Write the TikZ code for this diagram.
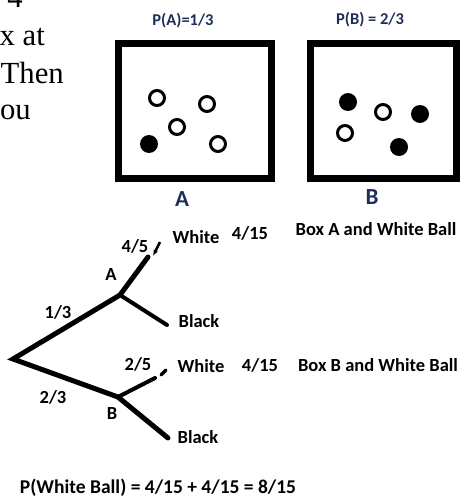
\documentclass[tikz,border=0pt]{standalone}
\usepackage{fontspec}
\setmainfont{Liberation Serif}
\newfontfamily\carlito{Carlito}
\usetikzlibrary{arrows.meta}
\definecolor{titlenavy}{HTML}{1F2D5A}

\begin{document}
\begin{tikzpicture}[x=1pt,y=-1pt,
    every node/.style={inner sep=0pt},
    textline/.style={anchor=base east,font=\fontsize{30.7}{37}\selectfont},
    boxline/.style={line width=6.5pt},
    hollowball/.style={draw,line width=3pt},
    fullball/.style={fill=black},
    boxtitle/.style={text=titlenavy,font=\carlito\bfseries\fontsize{16.5}{18}\selectfont},
    boxname/.style={text=titlenavy,font=\carlito\bfseries\fontsize{23}{25}\selectfont},
    lbl/.style={font=\carlito\bfseries\fontsize{18.5}{20}\selectfont},
    branch/.style={line width=5pt,line cap=round},
    twig/.style={line width=4pt,line cap=round}]
  \useasboundingbox (0,0) rectangle (463,503);

  % cut-off question text on the left
  \node[textline] (q1) at (23,8) {4};
  \node[textline] (q2) at (45,46) {x at};
  \node[textline] (q3) at (64,83) {Then};
  \node[textline] (q4) at (31,119) {ou};

  % box A
  \node[boxtitle] (pa) at (183,21) {P(A)=1/3};
  \draw[boxline] (118.5,43.5) rectangle (271.5,178.5);
  \draw[hollowball] (157,98) circle[radius=7.5pt];
  \draw[hollowball] (207,104) circle[radius=7.5pt];
  \draw[hollowball] (177,127) circle[radius=7.5pt];
  \draw[hollowball] (218,144) circle[radius=7.5pt];
  \fill[fullball] (149,144) circle[radius=9pt];
  \node[boxname] (boxa) at (182,199) {A};

  % box B
  \node[boxtitle] (pb) at (370,20) {P(B) = 2/3};
  \draw[boxline] (310.5,43.5) rectangle (456.5,178.5);
  \fill[fullball] (348,102) circle[radius=9pt];
  \fill[fullball] (420,114) circle[radius=9pt];
  \fill[fullball] (399,147) circle[radius=9pt];
  \draw[hollowball] (383,112) circle[radius=7.5pt];
  \draw[hollowball] (345,133) circle[radius=7.5pt];
  \node[boxname] (boxb) at (372,197) {B};

  % tree
  \coordinate (root) at (13,359);
  \coordinate (ja) at (120,295);
  \coordinate (jb) at (118,397);
  \coordinate (aw) at (148,257);
  \coordinate (ab) at (167,325);
  \coordinate (bw) at (155,378);
  \coordinate (bb) at (168,438);
  \coordinate (tipa1) at (160,242);
  \coordinate (tipa2) at (153,256);
  \coordinate (dashb1) at (161,375);
  \coordinate (dashb2) at (166,370);

  \draw[branch] (ja) -- (root) -- (jb);
  \draw[branch] (ja) -- (aw);
  \draw[twig] (ja) -- (ab);
  \draw[twig] (jb) -- (bw);
  \draw[branch] (jb) -- (bb);
  \draw[line width=2.5pt,-{Latex[length=6pt,width=5pt]}] (tipa1) -- (tipa2);
  \draw[line width=3.5pt,line cap=round] (dashb1) -- (dashb2);

  \node[lbl] (p45) at (135,246) {4/5};
  \node[lbl] (wa) at (196,237) {White};
  \node[lbl] (fa) at (250,233) {4/15};
  \node[lbl] (ea) at (376,229) {Box A and White Ball};
  \node[lbl] (la) at (111,274) {A};
  \node[lbl] (p13) at (58,312) {1/3};
  \node[lbl] (ka) at (199,321) {Black};
  \node[lbl] (p25) at (138,364) {2/5};
  \node[lbl] (wb) at (201,366) {White};
  \node[lbl] (fb) at (260,365) {4/15};
  \node[lbl] (eb) at (378,365) {Box B and White Ball};
  \node[lbl] (p23) at (53,397) {2/3};
  \node[lbl] (lb) at (112,413) {B};
  \node[lbl] (kb) at (198,437) {Black};

  \node[lbl,font=\carlito\bfseries\fontsize{19.5}{21}\selectfont] (total) at (158,488)
    {P(White Ball) = 4/15 + 4/15 = 8/15};
\end{tikzpicture}
\end{document}
